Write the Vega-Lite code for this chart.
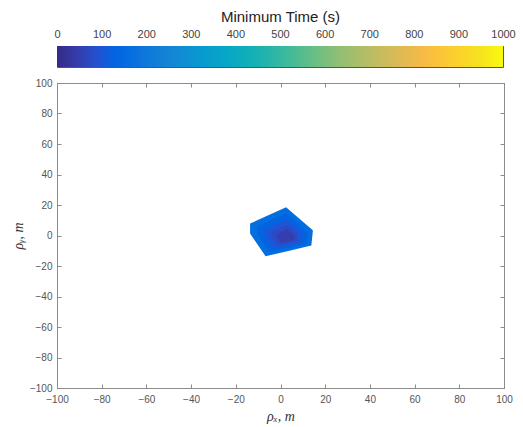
{
  "$schema": "https://vega.github.io/schema/vega-lite/v6.json",
  "background": "white",
  "padding": {"left": 10, "top": 9, "right": 5, "bottom": 5},
  "spacing": 16,
  "bounds": "flush",
  "datasets": {
    "bar": [{"t0": 0, "t1": 1000}],
    "contours": [
      {"level": 160, "x": -13.6, "top": 7.8, "bottom": 1.3},
      {"level": 160, "x": -6.7, "top": 12.4, "bottom": -13.6},
      {"level": 160, "x": 2.5, "top": 18.6, "bottom": -10.5},
      {"level": 160, "x": 13.8, "top": 4.2, "bottom": -6.5},
      {"level": 160, "x": 14.5, "top": 3.3, "bottom": 3.3},
      {"level": 130, "x": -10.3, "top": 5.9, "bottom": 0.7},
      {"level": 130, "x": -4.8, "top": 9.6, "bottom": -10.8},
      {"level": 130, "x": 2.6, "top": 14.6, "bottom": -8.4},
      {"level": 130, "x": 11.6, "top": 3.1, "bottom": -5.5},
      {"level": 130, "x": 12.2, "top": 2.3, "bottom": 2.3},
      {"level": 100, "x": -7.0, "top": 4.1, "bottom": 0.2},
      {"level": 100, "x": -2.8, "top": 6.8, "bottom": -8.5},
      {"level": 100, "x": 2.7, "top": 10.6, "bottom": -6.7},
      {"level": 100, "x": 9.5, "top": 1.9, "bottom": -4.5},
      {"level": 100, "x": 9.9, "top": 1.4, "bottom": 1.4},
      {"level": 75, "x": -4.0, "top": 2.4, "bottom": -0.3},
      {"level": 75, "x": -1.1, "top": 4.3, "bottom": -6.4},
      {"level": 75, "x": 2.8, "top": 6.9, "bottom": -5.1},
      {"level": 75, "x": 7.5, "top": 0.9, "bottom": -3.6},
      {"level": 75, "x": 7.8, "top": 0.5, "bottom": 0.5},
      {"level": 50, "x": -1.6, "top": 1.0, "bottom": -0.7},
      {"level": 50, "x": 0.4, "top": 2.4, "bottom": -4.9},
      {"level": 50, "x": 2.9, "top": 4.2, "bottom": -4.1},
      {"level": 50, "x": 6.1, "top": 0.1, "bottom": -3.0},
      {"level": 50, "x": 6.3, "top": -0.2, "bottom": -0.2}
    ]
  },
  "vconcat": [
    {
      "width": 446,
      "height": 21,
      "data": {"name": "bar"},
      "view": {"stroke": "#555555", "strokeWidth": 1},
      "mark": {
        "type": "rect",
        "fill": {
          "gradient": "linear", "x1": 0, "y1": 0, "x2": 1, "y2": 0,
          "stops": [
            {"offset": 0, "color": "#352A87"},
            {"offset": 0.0476, "color": "#353DAD"},
            {"offset": 0.0952, "color": "#2053D4"},
            {"offset": 0.127, "color": "#0363E1"},
            {"offset": 0.1587, "color": "#046DE0"},
            {"offset": 0.1905, "color": "#0D75DC"},
            {"offset": 0.254, "color": "#1485D4"},
            {"offset": 0.3175, "color": "#0998D1"},
            {"offset": 0.381, "color": "#06A7C6"},
            {"offset": 0.4444, "color": "#15B1B4"},
            {"offset": 0.5079, "color": "#38B99E"},
            {"offset": 0.5714, "color": "#65BE86"},
            {"offset": 0.6349, "color": "#92BF73"},
            {"offset": 0.6984, "color": "#B7BD64"},
            {"offset": 0.7619, "color": "#D9BA56"},
            {"offset": 0.8254, "color": "#F8BB44"},
            {"offset": 0.8889, "color": "#FCCE2E"},
            {"offset": 0.9524, "color": "#F5E41D"},
            {"offset": 1, "color": "#F9FB0E"}
          ]
        }
      },
      "encoding": {
        "x": {
          "field": "t0", "type": "quantitative",
          "scale": {"domain": [0, 1000], "nice": false},
          "axis": {
            "orient": "top",
            "values": [0, 100, 200, 300, 400, 500, 600, 700, 800, 900, 1000],
            "format": "d",
            "domain": false,
            "tickSize": -3, "tickColor": "#555555",
            "labelFontSize": 11, "labelColor": "#444444", "labelFont": "Liberation Sans",
            "labelPadding": 11.5, "labelBaseline": "alphabetic", "labelFlush": false,
            "title": "Minimum Time (s)", "titleFont": "Liberation Sans",
            "titleFontSize": 15, "titleFontWeight": "normal", "titleColor": "#222222",
            "titleBaseline": "alphabetic", "titleY": -24.3
          }
        },
        "x2": {"field": "t1"}
      }
    },
    {
      "width": 447,
      "height": 305,
      "data": {"name": "contours"},
      "view": {"stroke": "#8c8c8c", "strokeWidth": 1},
      "resolve": {"axis": {"x": "independent", "y": "independent"}},
      "layer": [
        {
          "encoding": {
            "x": {
              "field": "x", "type": "quantitative",
              "scale": {"domain": [-100, 100], "nice": false},
              "axis": {
                "orient": "bottom",
                "values": [-100, -80, -60, -40, -20, 0, 20, 40, 60, 80, 100],
                "tickSize": -4, "tickColor": "#8c8c8c", "domainColor": "#8c8c8c",
                "labelFontSize": 10, "labelColor": "#555555", "labelFont": "Liberation Sans",
                "labelPadding": 10.8, "labelFlush": false,
                "title": "ρₓ, m", "titleFont": "Liberation Serif", "titleFontStyle": "italic",
                "titleFontWeight": "normal", "titleFontSize": 14, "titleColor": "#333333",
                "titleBaseline": "middle", "titleY": 28.5
              }
            },
            "y": {
              "field": "top", "type": "quantitative",
              "scale": {"domain": [-100, 100], "nice": false},
              "axis": {
                "orient": "left",
                "values": [-100, -80, -60, -40, -20, 0, 20, 40, 60, 80, 100],
                "tickSize": -4, "tickColor": "#8c8c8c", "domainColor": "#8c8c8c",
                "labelFontSize": 10, "labelColor": "#555555", "labelFont": "Liberation Sans",
                "labelPadding": 9, "labelFlush": false,
                "title": "ρᵧ, m", "titleFont": "Liberation Serif", "titleFontStyle": "italic",
                "titleFontWeight": "normal", "titleFontSize": 14, "titleColor": "#333333",
                "titleBaseline": "middle", "titleX": -39
              }
            },
            "y2": {"field": "bottom"},
            "color": {
              "field": "level", "type": "quantitative", "legend": null,
              "scale": {
                "domain": [0, 47.6, 95.2, 127, 158.7, 190.5, 254, 317.5, 381, 444.4, 507.9, 571.4, 634.9, 698.4, 761.9, 825.4, 888.9, 952.4, 1000],
                "range": ["#352A87", "#353DAD", "#2053D4", "#0363E1", "#046DE0", "#0D75DC", "#1485D4", "#0998D1", "#06A7C6", "#15B1B4", "#38B99E", "#65BE86", "#92BF73", "#B7BD64", "#D9BA56", "#F8BB44", "#FCCE2E", "#F5E41D", "#F9FB0E"]
              }
            }
          },
          "layer": [
            {"transform": [{"filter": "datum.level == 160"}], "mark": {"type": "area", "interpolate": "linear", "orient": "vertical"}},
            {"transform": [{"filter": "datum.level == 130"}], "mark": {"type": "area", "interpolate": "linear", "orient": "vertical"}},
            {"transform": [{"filter": "datum.level == 100"}], "mark": {"type": "area", "interpolate": "linear", "orient": "vertical"}},
            {"transform": [{"filter": "datum.level == 75"}], "mark": {"type": "area", "interpolate": "linear", "orient": "vertical"}},
            {"transform": [{"filter": "datum.level == 50"}], "mark": {"type": "area", "interpolate": "linear", "orient": "vertical"}}
          ]
        },
        {
          "mark": {"type": "point", "opacity": 0},
          "encoding": {
            "x": {
              "field": "x", "type": "quantitative",
              "scale": {"domain": [-100, 100], "nice": false},
              "axis": {
                "orient": "top", "labels": false, "title": null,
                "values": [-100, -80, -60, -40, -20, 0, 20, 40, 60, 80, 100],
                "tickSize": -4, "tickColor": "#8c8c8c", "domainColor": "#8c8c8c"
              }
            },
            "y": {
              "field": "top", "type": "quantitative",
              "scale": {"domain": [-100, 100], "nice": false},
              "axis": {
                "orient": "right", "labels": false, "title": null,
                "values": [-100, -80, -60, -40, -20, 0, 20, 40, 60, 80, 100],
                "tickSize": -4, "tickColor": "#8c8c8c", "domainColor": "#8c8c8c"
              }
            }
          }
        }
      ]
    }
  ],
  "config": {
    "axis": {"grid": false}
  }
}
